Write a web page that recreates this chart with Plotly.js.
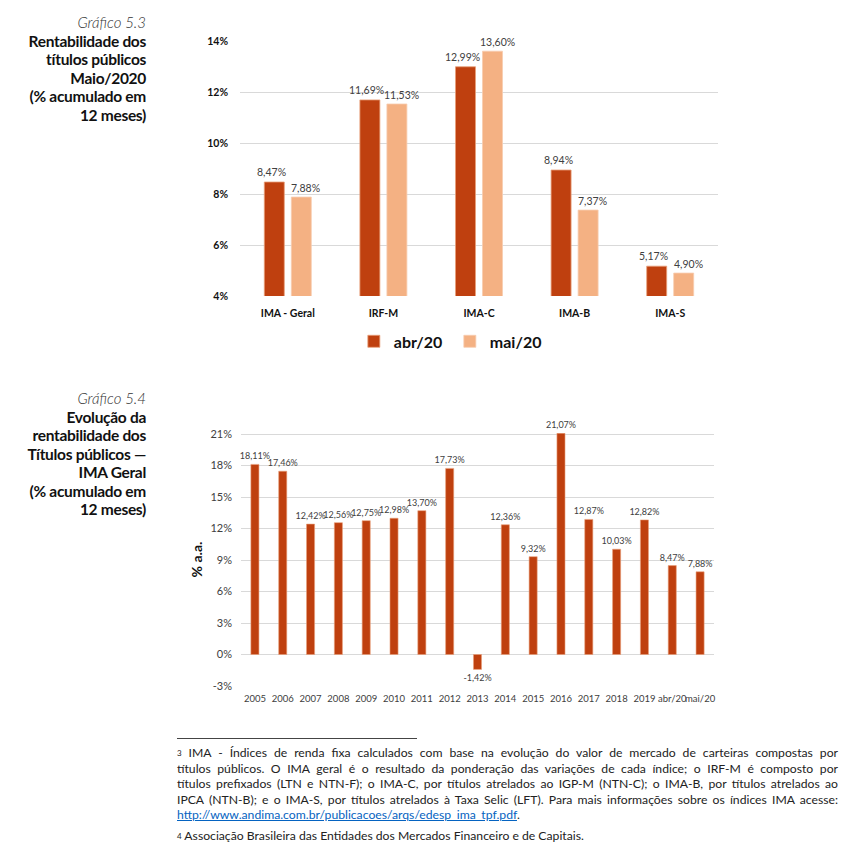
<!DOCTYPE html>
<html><head><meta charset="utf-8">
<script src="https://cdn.plot.ly/plotly-3.0.1.min.js"></script>
<style>
body{margin:0;background:#fff;width:858px;height:854px;overflow:hidden;font-family:Lato,"Open Sans",sans-serif;}
.side{position:absolute;right:712px;text-align:right;color:#111;white-space:nowrap;z-index:5;}
.side .it{font-style:italic;font-weight:300;font-size:15px;line-height:18.5px;color:#333;}
.side .b{font-weight:700;font-size:15.5px;line-height:18.5px;letter-spacing:-0.3px;}
.fn{position:absolute;left:177px;width:661px;font-size:12.2px;line-height:15.6px;color:#222;z-index:5;}
.fn div{text-align:justify;text-align-last:justify;}
.fn div.last{text-align-last:left;}
.fn sup{font-size:8px;vertical-align:1px;line-height:0;}
.fn a{color:#0563C1;text-decoration:underline;}
#rule{position:absolute;left:177px;top:738px;width:240px;height:0;border-top:1px solid #444;z-index:5;}
</style></head>
<body>
<div id="c1" style="position:absolute;left:0;top:0;width:858px;height:370px;"></div>
<div id="c2" style="position:absolute;left:0;top:370px;width:858px;height:350px;"></div>
<div class="side" style="top:13px;">
<div class="it">Gráfico 5.3</div>
<div class="b">Rentabilidade dos</div>
<div class="b">títulos públicos</div>
<div class="b">Maio/2020</div>
<div class="b">(% acumulado em</div>
<div class="b">12 meses)</div>
</div>
<div class="side" style="top:389px;">
<div class="it">Gráfico 5.4</div>
<div class="b">Evolução da</div>
<div class="b">rentabilidade dos</div>
<div class="b">Títulos públicos —</div>
<div class="b">IMA Geral</div>
<div class="b">(% acumulado em</div>
<div class="b">12 meses)</div>
</div>
<div id="rule"></div>
<div class="fn" style="top:745px;">
<div><sup>3</sup> IMA - Índices de renda fixa calculados com base na evolução do valor de mercado de carteiras compostas por</div>
<div>títulos públicos. O IMA geral é o resultado da ponderação das variações de cada índice; o IRF-M é composto por</div>
<div>títulos prefixados (LTN e NTN-F); o IMA-C, por títulos atrelados ao IGP-M (NTN-C); o IMA-B, por títulos atrelados ao</div>
<div>IPCA (NTN-B); e o IMA-S, por títulos atrelados à Taxa Selic (LFT). Para mais informações sobre os índices IMA acesse:</div>
<div class="last"><a href="#">http://www.andima.com.br/publicacoes/arqs/edesp_ima_tpf.pdf</a>.</div>
</div>
<div class="fn" style="top:828px;">
<div class="last"><sup>4</sup> Associação Brasileira das Entidades dos Mercados Financeiro e de Capitais.</div>
</div>
<script>
// ---- Data: Gráfico 5.3 ----
const categories1 = ['IMA - Geral', 'IRF-M', 'IMA-C', 'IMA-B', 'IMA-S'];
const abr20 = [8.47, 11.69, 12.99, 8.94, 5.17];
const mai20 = [7.88, 11.53, 13.60, 7.37, 4.90];
const ticks1 = [4, 6, 8, 10, 12, 14];

// ---- Data: Gráfico 5.4 ----
const periods2 = ['2005','2006','2007','2008','2009','2010','2011','2012','2013','2014','2015','2016','2017','2018','2019','abr/20','mai/20'];
const imaGeral = [18.11, 17.46, 12.42, 12.56, 12.75, 12.98, 13.70, 17.73, -1.42, 12.36, 9.32, 21.07, 12.87, 10.03, 12.82, 8.47, 7.88];
const ticks2 = [-3, 0, 3, 6, 9, 12, 15, 18, 21];

const DARK = '#BF400F', LIGHT = '#F4B183';
const FONT = 'Lato, "Open Sans", sans-serif';
const pct = v => v.toFixed(2).replace('.', ',') + '%';
const tickTxt = v => String(v) + '%';

const t1a = {
  type: 'bar', name: 'abr/20', x: categories1, y: abr20,
  marker: {color: DARK, line: {color: '#E9A07A', width: 0.8}}, hoverinfo: 'none'
};
const t1b = {
  type: 'bar', name: 'mai/20', x: categories1, y: mai20,
  marker: {color: LIGHT, line: {color: '#F8CDB0', width: 0.8}}, hoverinfo: 'none'
};
// value labels (nudged apart like the original)
const labFont = {family: FONT, size: 10.5, color: '#404040'};
const ann1 = [];
categories1.forEach((c, i) => {
  ann1.push({x: c, y: abr20[i], xref: 'x', yref: 'y', text: pct(abr20[i]), showarrow: false,
             xanchor: 'center', yanchor: 'bottom', xshift: -16.5, yshift: 2, font: labFont});
  ann1.push({x: c, y: mai20[i], xref: 'x', yref: 'y', text: pct(mai20[i]), showarrow: false,
             xanchor: 'center', yanchor: 'bottom', xshift: 18, yshift: 1, font: labFont});
});
const layout1 = {
  width: 858, height: 370,
  margin: {l: 240, r: 140, t: 41, b: 71},
  paper_bgcolor: 'rgba(0,0,0,0)', plot_bgcolor: 'rgba(0,0,0,0)',
  barmode: 'group', bargap: 0.435, bargroupgap: 0.26,
  font: {family: FONT, color: '#111'},
  showlegend: true,
  annotations: ann1,
  legend: {orientation: 'h', x: 0.439, xanchor: 'center', y: -0.178, yanchor: 'middle',
           font: {family: FONT, size: 16, color: '#111', weight: 700}, itemwidth: 30,
           entrywidth: 51, traceorder: 'normal'},
  xaxis: {type: 'category', showgrid: false, zeroline: false, showline: false, ticks: '',
          ticklabelstandoff: 9,
          tickfont: {family: FONT, size: 10.5, color: '#111', weight: 700}, fixedrange: true},
  yaxis: {range: [4, 14], tickvals: ticks1, ticktext: ticks1.map(tickTxt), showgrid: true,
          gridcolor: '#D9D9D9', gridwidth: 1, zeroline: false, showline: false, ticks: '',
          ticklabelstandoff: 11,
          tickfont: {family: FONT, size: 10.5, color: '#111', weight: 700}, fixedrange: true}
};
Plotly.newPlot('c1', [t1a, t1b], layout1, {staticPlot: true, displayModeBar: false});

const t2 = {
  type: 'bar', name: 'IMA Geral', x: periods2, y: imaGeral,
  marker: {color: DARK, line: {color: '#E9A07A', width: 0.6}},
  text: imaGeral.map(pct), textposition: 'outside', constraintext: 'none', cliponaxis: false,
  textfont: {family: FONT, size: 9, color: '#404040'}, hoverinfo: 'none'
};
const layout2 = {
  width: 858, height: 350,
  margin: {l: 241, r: 144, t: 63, b: 34},
  paper_bgcolor: 'rgba(0,0,0,0)', plot_bgcolor: 'rgba(0,0,0,0)',
  bargap: 0.71, showlegend: false,
  font: {family: FONT, color: '#404040'},
  xaxis: {type: 'category', showgrid: false, zeroline: false, showline: false, ticks: '',
          ticklabelstandoff: 5,
          tickangle: 0, tickfont: {family: FONT, size: 9.5, color: '#404040'}, fixedrange: true},
  yaxis: {range: [-3, 21.1], tickvals: ticks2, ticktext: ticks2.map(tickTxt), showgrid: true,
          gridcolor: '#D9D9D9', gridwidth: 1, zeroline: false, showline: false, ticks: '',
          ticklabelstandoff: 8,
          tickfont: {family: FONT, size: 11, color: '#404040'},
          title: {text: '% a.a.', standoff: 4, font: {family: FONT, size: 14, color: '#111', weight: 700}},
          fixedrange: true}
};
Plotly.newPlot('c2', [t2], layout2, {staticPlot: true, displayModeBar: false});
</script>
</body></html>
